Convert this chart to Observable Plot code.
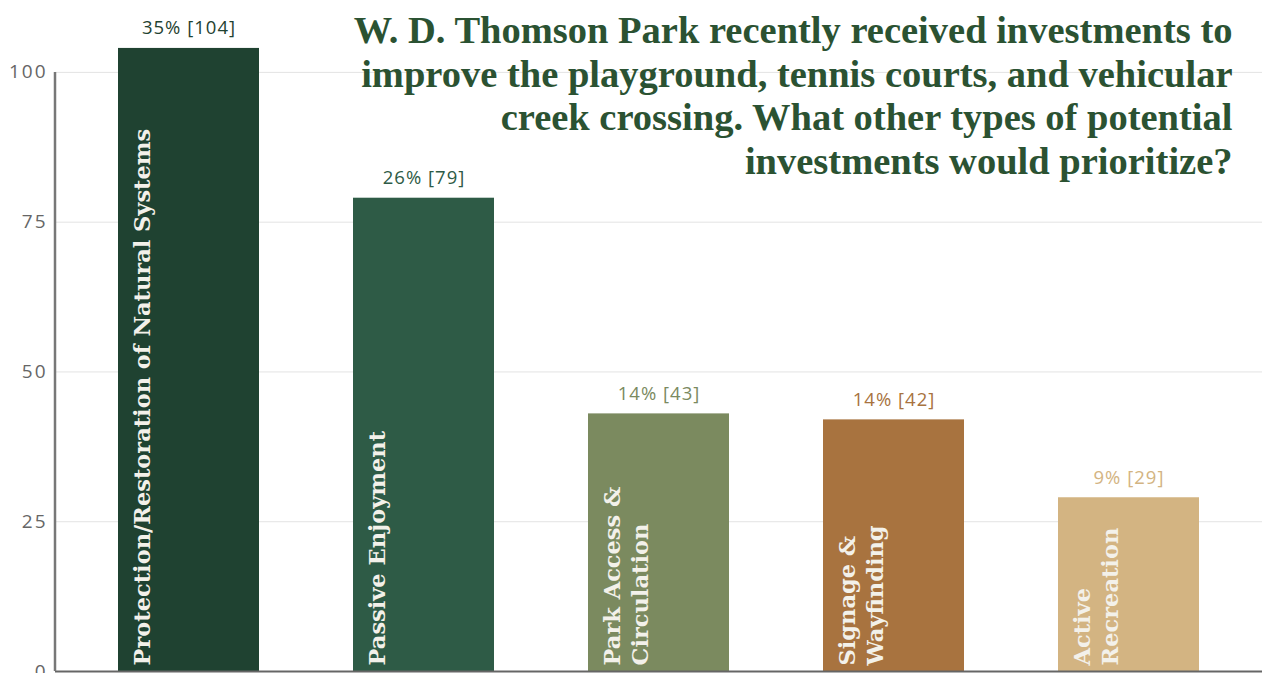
<!DOCTYPE html>
<html><head><meta charset="utf-8">
<script src="https://cdn.jsdelivr.net/npm/d3@7"></script>
<script src="https://cdn.jsdelivr.net/npm/@observablehq/plot@0.6"></script>
<style>body{margin:0;background:#fff;overflow:hidden}</style>
</head><body><div id="chart"></div>
<script>
const categories = ["Protection/Restoration of Natural Systems", "Passive Enjoyment", "Park Access & Circulation", "Signage & Wayfinding", "Active Recreation"];
const labels = ["Protection/Restoration of Natural Systems", "Passive Enjoyment", "Park Access &\nCirculation", "Signage &\nWayfinding", "Active\nRecreation"];
const counts = [104, 79, 43, 42, 29];
const percents = [35, 26, 14, 14, 9];
const palette = ["#1f4231", "#2e5b46", "#7b8a5f", "#a8733f", "#d3b482"];
const yTicks = [0, 25, 50, 75, 100];
const title = "W. D. Thomson Park recently received investments to\nimprove the playground, tennis courts, and vehicular\ncreek crossing. What other types of potential\ninvestments would prioritize?";

const data = categories.map((c, i) => ({category: c, label: labels[i], count: counts[i], pct: percents[i]}));

const chart = Plot.plot({
  width: 1262, height: 673,
  marginLeft: 55, marginRight: 0, marginTop: 0, marginBottom: 2,
  x: {domain: categories, paddingInner: 0.4, paddingOuter: 0.268, axis: null},
  y: {domain: [0, 112], axis: null},
  color: {domain: categories, range: palette},
  style: {background: "#fff", overflow: "visible"},
  marks: [
    Plot.gridY(yTicks.slice(1), {stroke: "#e3e3e3", strokeOpacity: 1, strokeWidth: 1}),
    Plot.barY(data, {x: "category", y: "count", fill: "category"}),
    Plot.ruleY([0], {stroke: "#666", strokeWidth: 2}),
    Plot.axisY(yTicks, {tickSize: 0, tickPadding: 8, fontSize: 19, color: "#666", fontFamily: "Open Sans", label: null}),
    Plot.text(data, {x: "category", y: "count", text: d => `${d.pct}% [${d.count}]`, fill: "category", lineAnchor: "bottom", dy: -14, fontSize: 18.5, fontFamily: "Open Sans"}),
    Plot.text(data, {x: "category", y: 0, text: "label", rotate: -90, textAnchor: "start", lineAnchor: "top", lineHeight: 1.26, dx: -59, dy: -6, fill: "#f3f1ea", fontSize: 22.5, fontFamily: "DejaVu Serif", fontWeight: "bold"}),
    Plot.text([title], {frameAnchor: "top-right", text: d => d, textAnchor: "end", lineAnchor: "top", dx: -30, dy: 12, lineHeight: 1.13, fontSize: 38.5, fontWeight: "bold", fontFamily: "Liberation Serif", fill: "#2b5232"})
  ]
});

const svg = d3.select(chart);
svg.selectAll("g[aria-label='y-axis tick label'] text").style("letter-spacing", "2px");
svg.selectAll("g[aria-label='text']").filter((d, i) => i === 0).selectAll("text").style("letter-spacing", "1px");

const ys = chart.scale("y"), xs = chart.scale("x");
svg.append("line")
  .attr("x1", xs.range[0]).attr("x2", xs.range[0])
  .attr("y1", ys.apply(0)).attr("y2", ys.apply(100))
  .attr("stroke", "#777").attr("stroke-width", 2.5);

document.getElementById("chart").append(chart);
</script>
</body></html>
